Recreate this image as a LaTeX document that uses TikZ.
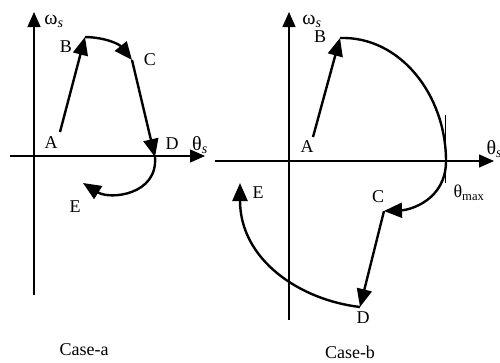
\documentclass[tikz,border=0pt]{standalone}
\usepackage{fontspec}
\setmainfont{Liberation Serif}
\usetikzlibrary{arrows.meta,positioning}
\tikzset{every picture/.style={line width=1.3pt}}

\begin{document}
\begin{tikzpicture}[x=1pt,y=-1pt,
    axis/.style={line width=1.4pt,-{Triangle[length=15pt,width=13pt]}},
    traj/.style={line width=2.4pt,-{Triangle[length=18pt,width=15pt]}},
    lbl/.style={font=\fontsize{18}{20}\selectfont,inner sep=0pt}]
    \useasboundingbox (0,0) rectangle (500,362);
    \clip (0,0) rectangle (500,362);
    \coordinate (ya1) at (34,295);
    \coordinate (ya2) at (34,12);
    \coordinate (xa1) at (10,156);
    \coordinate (xa2) at (205,156);
    \coordinate (a1) at (60,132);
    \coordinate (b1) at (85,37);
    \coordinate (c1) at (132,60);
    \coordinate (d1) at (155,157);
    \coordinate (e1) at (83,183);
    \draw[axis] (ya1) -- (ya2);
    \draw[axis] (xa1) -- (xa2);
    \draw[traj] (a1) -- (b1);
    \draw[traj] (b1) to[bend left=25] (c1);
    \draw[traj] (c1) -- (d1);
    \draw[traj] (d1) .. controls (158,195) and (110,200) .. (e1);
    \node[lbl] (wa) at (54,21) {\fontsize{20}{22}\selectfont ω\textsubscript{\textit{s}}};
    \node[lbl] (ta) at (200,145) {\fontsize{20}{22}\selectfont θ\textsubscript{\textit{s}}};
    \node[lbl] (la) at (51,143) {A};
    \node[lbl] (lb) at (66,47) {B};
    \node[lbl] (lc) at (150,60) {C};
    \node[lbl] (ld) at (172,144) {D};
    \node[lbl] (le) at (75,207) {E};
    \node[lbl] (casea) at (84,350) {Case-a};
    \coordinate (yb1) at (289,320);
    \coordinate (yb2) at (289,12);
    \coordinate (xb1) at (215,161);
    \coordinate (xb2) at (494,161);
    \coordinate (a2) at (313,137);
    \coordinate (b2) at (340,38);
    \coordinate (t2) at (446,161);
    \coordinate (c2) at (384,211);
    \coordinate (d2) at (360,307);
    \coordinate (e2) at (240,183);
    \coordinate (m1) at (445,115);
    \coordinate (m2) at (445,183);
    \draw[axis] (yb1) -- (yb2);
    \draw[axis] (xb1) -- (xb2);
    \draw[line width=0.7pt] (m1) -- (m2);
    \draw[traj] (a2) -- (b2);
    \draw[line width=2.4pt] (b2) .. controls (400,36) and (446,95) .. (t2);
    \draw[traj] (t2) .. controls (446,200) and (410,210) .. (c2);
    \draw[traj] (c2) -- (d2);
    \draw[traj] (d2) .. controls (300,300) and (240,260) .. (e2);
    \node[lbl] (wb) at (312,21) {\fontsize{20}{22}\selectfont ω\textsubscript{\textit{s}}};
    \node[lbl] (tb) at (486,149) [anchor=west] {\fontsize{20}{22}\selectfont θ\textsubscript{\textit{s}}};
    \node[lbl] (lb2) at (320,37) {B};
    \node[lbl] (la2) at (307,147) {A};
    \node[lbl] (lc2) at (378,197) {C};
    \node[lbl] (ld2) at (363,318) {D};
    \node[lbl] (le2) at (258,193) {E};
    \node[lbl] (tm) at (469,193) {θ\textsubscript{max}};
    \node[lbl] (caseb) at (350,352) {Case-b};
\end{tikzpicture}
\end{document}
